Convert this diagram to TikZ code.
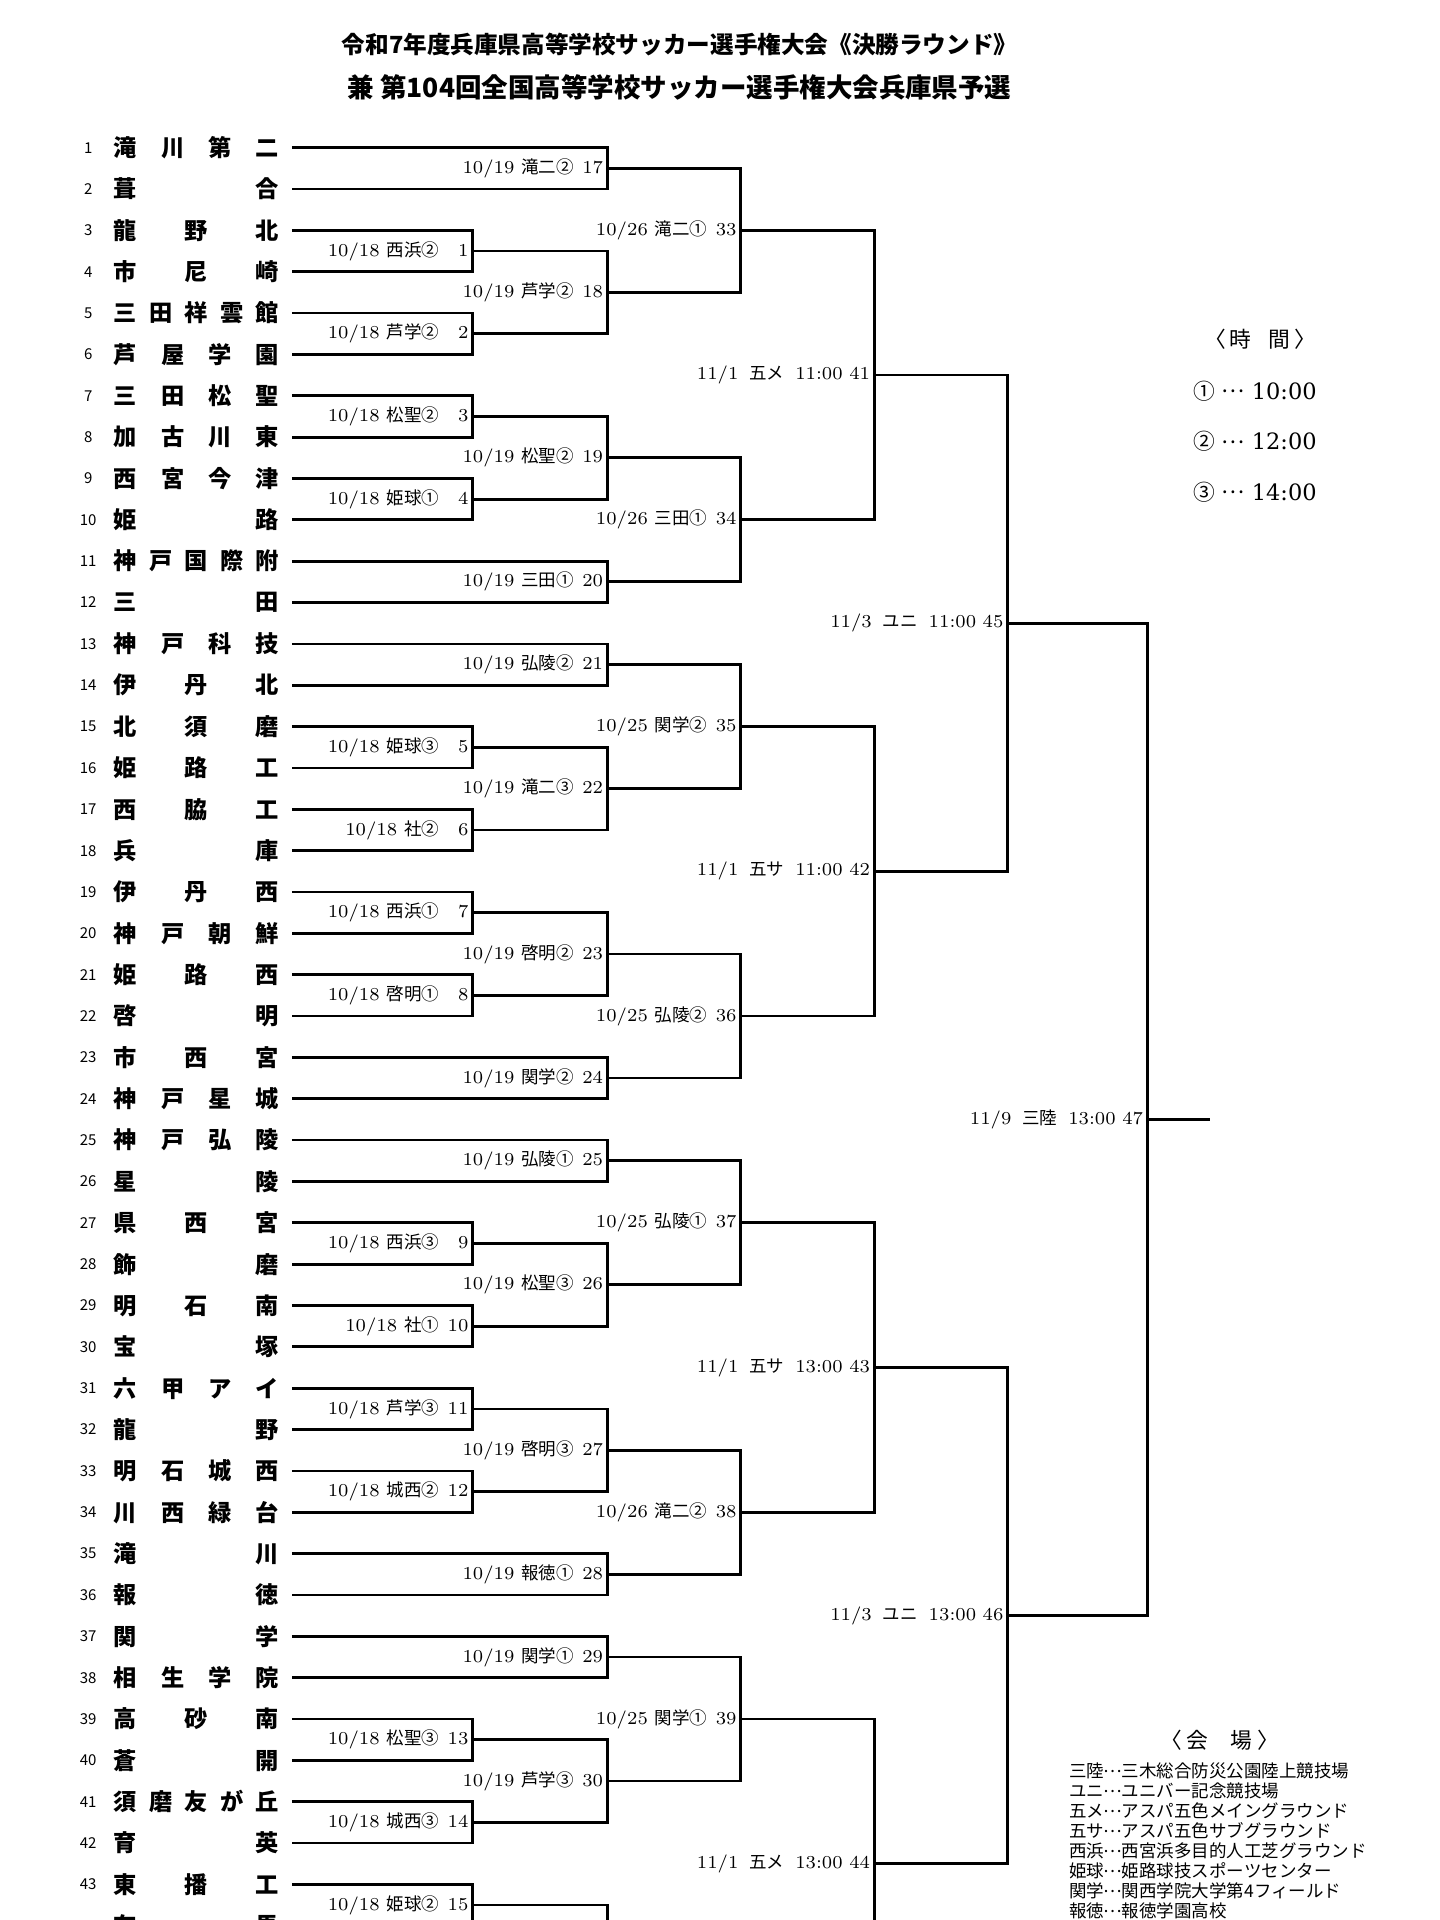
\documentclass[tikz,border=0pt]{standalone}
\usepackage{fontspec}
\newfontfamily\cjk{Noto Sans CJK JP}
\newfontfamily\wide{DejaVu Serif}
\newcommand{\ry}[1]{120.6+(#1-1)*33.77}
\newcommand{\glab}[3]{#1\ {\cjk\fontsize{7}{9}\selectfont #2}\makebox[1.6em][r]{#3}}
\newcommand{\flab}[4]{#1\hspace{0.6em}{\cjk\fontsize{7}{9}\selectfont #2}\hspace{0.6em}#3\makebox[1.5em][r]{#4}}
\newcommand{\mdots}{\makebox[1em]{\raisebox{0.3em}{…}}}

\begin{document}
\begin{tikzpicture}[x=0.49pt, y=-0.49pt,
  bline/.style={black, line width=1.1pt},
  tname/.style={inner sep=0pt, font=\cjk\bfseries\fontsize{9.3}{10}\selectfont},
  tnum/.style={inner sep=0pt, font=\cjk\fontsize{6}{7}\selectfont},
  glabel/.style={anchor=east, inner sep=0pt, font=\fontsize{7.3}{9}\selectfont},
  heading/.style={inner sep=0pt, font=\cjk\bfseries},
  legend/.style={inner sep=0pt, font=\cjk\fontsize{8.7}{10}\selectfont},
  venue/.style={anchor=west, inner sep=0pt, font=\cjk\fontsize{7}{8}\selectfont}]
  \useasboundingbox (0,0) rectangle (1176,1568);
  \fill[white] (0,0) rectangle (1176,1568);
  \clip (0,0) rectangle (1176,1568);

  \node[heading] (head1) at (555,36) {\fontsize{9.45}{11}\selectfont 令和7年度兵庫県高等学校サッカー選手権大会《決勝ラウンド》};
  \node[heading] (head2) at (555,71) {\fontsize{10.6}{12}\selectfont 兼 第104回全国高等学校サッカー選手権大会兵庫県予選};

  % teams
  \foreach \row/\nm in {1/滝\hfill 川\hfill 第\hfill 二, 2/葺\hfill 合, 3/龍\hfill 野\hfill 北,
    4/市\hfill 尼\hfill 崎, 5/三\hfill 田\hfill 祥\hfill 雲\hfill 館, 6/芦\hfill 屋\hfill 学\hfill 園,
    7/三\hfill 田\hfill 松\hfill 聖, 8/加\hfill 古\hfill 川\hfill 東, 9/西\hfill 宮\hfill 今\hfill 津,
    10/姫\hfill 路, 11/神\hfill 戸\hfill 国\hfill 際\hfill 附, 12/三\hfill 田,
    13/神\hfill 戸\hfill 科\hfill 技, 14/伊\hfill 丹\hfill 北, 15/北\hfill 須\hfill 磨,
    16/姫\hfill 路\hfill 工, 17/西\hfill 脇\hfill 工, 18/兵\hfill 庫, 19/伊\hfill 丹\hfill 西,
    20/神\hfill 戸\hfill 朝\hfill 鮮, 21/姫\hfill 路\hfill 西, 22/啓\hfill 明, 23/市\hfill 西\hfill 宮,
    24/神\hfill 戸\hfill 星\hfill 城, 25/神\hfill 戸\hfill 弘\hfill 陵, 26/星\hfill 陵,
    27/県\hfill 西\hfill 宮, 28/飾\hfill 磨, 29/明\hfill 石\hfill 南, 30/宝\hfill 塚,
    31/六\hfill 甲\hfill ア\hfill イ, 32/龍\hfill 野, 33/明\hfill 石\hfill 城\hfill 西,
    34/川\hfill 西\hfill 緑\hfill 台, 35/滝\hfill 川, 36/報\hfill 徳, 37/関\hfill 学,
    38/相\hfill 生\hfill 学\hfill 院, 39/高\hfill 砂\hfill 南, 40/蒼\hfill 開,
    41/須\hfill 磨\hfill 友\hfill が\hfill 丘, 42/育\hfill 英, 43/東\hfill 播\hfill 工, 44/有\hfill 馬}{
    \node[tnum] (n\row) at (72,{\ry{\row}}) {\row};
    \node[tname] (t\row) at (160.5,{\ry{\row}}) {\makebox[66.15pt]{\nm}};
    \coordinate (s\row) at ([xshift=4.9pt]t\row.east);
  }

  % first round
  \foreach \mt/\rw/\ina/\inb/\dt/\vn in {1/3.5/s3/s4/{10/18}/西浜②, 2/5.5/s5/s6/{10/18}/芦学②,
    3/7.5/s7/s8/{10/18}/松聖②, 4/9.5/s9/s10/{10/18}/姫球①, 5/15.5/s15/s16/{10/18}/姫球③,
    6/17.5/s17/s18/{10/18}/社②, 7/19.5/s19/s20/{10/18}/西浜①, 8/21.5/s21/s22/{10/18}/啓明①,
    9/27.5/s27/s28/{10/18}/西浜③, 10/29.5/s29/s30/{10/18}/社①, 11/31.5/s31/s32/{10/18}/芦学③,
    12/33.5/s33/s34/{10/18}/城西②, 13/39.5/s39/s40/{10/18}/松聖③, 14/41.5/s41/s42/{10/18}/城西③,
    15/43.5/s43/s44/{10/18}/姫球②}{
    \coordinate (g\mt) at (386,{\ry{\rw}});
    \draw[bline] (\ina) -| (g\mt) |- (\inb);
    \node[glabel] (l\mt) at ([xshift=-1.5pt]g\mt) {\glab{\dt}{\vn}{\mt}};
  }
  \coordinate (g16) at (386,{\ry{45.5}});

  % second round
  \foreach \mt/\rw/\ina/\inb/\dt/\vn in {17/1.5/s1/s2/{10/19}/滝二②, 18/4.5/g1/g2/{10/19}/芦学②,
    19/8.5/g3/g4/{10/19}/松聖②, 20/11.5/s11/s12/{10/19}/三田①, 21/13.5/s13/s14/{10/19}/弘陵②,
    22/16.5/g5/g6/{10/19}/滝二③, 23/20.5/g7/g8/{10/19}/啓明②, 24/23.5/s23/s24/{10/19}/関学②,
    25/25.5/s25/s26/{10/19}/弘陵①, 26/28.5/g9/g10/{10/19}/松聖③, 27/32.5/g11/g12/{10/19}/啓明③,
    28/35.5/s35/s36/{10/19}/報徳①, 29/37.5/s37/s38/{10/19}/関学①, 30/40.5/g13/g14/{10/19}/芦学③}{
    \coordinate (g\mt) at (496,{\ry{\rw}});
    \draw[bline] (\ina) -| (g\mt) |- (\inb);
    \node[glabel] (l\mt) at ([xshift=-1.5pt]g\mt) {\glab{\dt}{\vn}{\mt}};
  }
  \coordinate (g31) at (496,{\ry{44.5}});
  \draw[bline] (g15) -| (g31) |- (g16);

  % third round
  \foreach \mt/\rw/\ina/\inb/\dt/\vn in {33/3/g17/g18/{10/26}/滝二①, 34/10/g19/g20/{10/26}/三田①,
    35/15/g21/g22/{10/25}/関学②, 36/22/g23/g24/{10/25}/弘陵②, 37/27/g25/g26/{10/25}/弘陵①,
    38/34/g27/g28/{10/26}/滝二②, 39/39/g29/g30/{10/25}/関学①}{
    \coordinate (g\mt) at (605,{\ry{\rw}});
    \draw[bline] (\ina) -| (g\mt) |- (\inb);
    \node[glabel] (l\mt) at ([xshift=-1.5pt]g\mt) {\glab{\dt}{\vn}{\mt}};
  }
  \coordinate (g40) at (605,{\ry{46}});

  % quarter finals to final
  \foreach \mt/\x/\rw/\ina/\inb/\dt/\vn/\hr in {41/714/6.5/g33/g34/{11/1}/五メ/11:00,
    42/714/18.5/g35/g36/{11/1}/五サ/11:00, 43/714/30.5/g37/g38/{11/1}/五サ/13:00,
    44/714/42.5/g39/g40/{11/1}/五メ/13:00, 45/823/12.5/g41/g42/{11/3}/ユニ/11:00,
    46/823/36.5/g43/g44/{11/3}/ユニ/13:00, 47/937/24.5/g45/g46/{11/9}/三陸/13:00}{
    \coordinate (g\mt) at (\x,{\ry{\rw}});
    \draw[bline] (\ina) -| (g\mt) |- (\inb);
    \node[glabel] (l\mt) at ([xshift=-1.5pt]g\mt) {\flab{\dt}{\vn}{\hr}{\mt}};
  }
  \coordinate (champ) at (988,{\ry{24.5}});
  \draw[bline] (g47) -- (champ);

  % times
  \node[legend] (jikan) at (1029,277) {〈\,時\hspace{0.8em}間\,〉};
  \foreach \cn/\tm [count=\j] in {①/10:00, ②/12:00, ③/14:00}
    \node[legend, anchor=west] (time\j) at (974,{319.4+(\j-1)*41.3}) {\cn\hspace{0.35em}\mdots\hspace{0.35em}{\wide\fontsize{9}{10}\selectfont \tm}};

  % venues
  \node[legend] (kaijo) at (996,1421) {〈 会　場 〉};
  \foreach \vn [count=\j] in {三陸\mdots 三木総合防災公園陸上競技場, ユニ\mdots ユニバー記念競技場,
    五メ\mdots アスパ五色メイングラウンド, 五サ\mdots アスパ五色サブグラウンド,
    西浜\mdots 西宮浜多目的人工芝グラウンド, 姫球\mdots 姫路球技スポーツセンター,
    関学\mdots 関西学院大学第4フィールド, 報徳\mdots 報徳学園高校}
    \node[venue] (v\j) at (873,{1446+(\j-1)*16.4}) {\vn};
\end{tikzpicture}
\end{document}
